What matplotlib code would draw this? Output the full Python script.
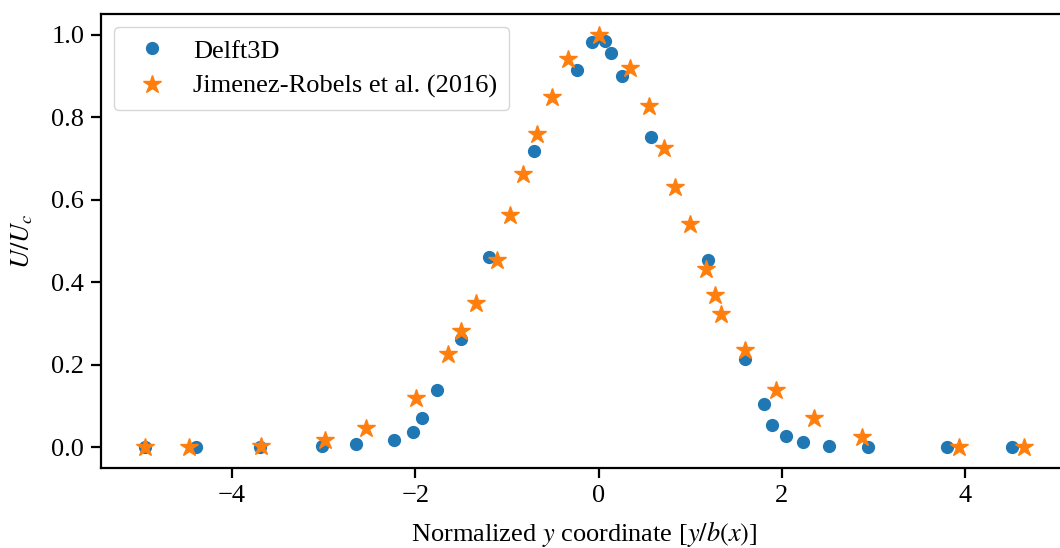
import matplotlib
matplotlib.use("Agg")
import matplotlib.pyplot as plt

plt.rcParams['font.family'] = ['Liberation Serif', 'DejaVu Serif']
plt.rcParams['mathtext.fontset'] = 'stix'
plt.rcParams['font.size'] = 19

# Delft3D model, normalised lateral velocity profile
delft_y = [-4.95, -4.39, -3.69, -3.02, -2.65, -2.23, -2.03, -1.93, -1.76, -1.50,
           -1.20, -0.70, -0.24, -0.07, 0.07, 0.14, 0.26, 0.57, 1.19, 1.60,
           1.80, 1.89, 2.05, 2.23, 2.51, 2.94, 3.80, 4.51]
delft_u = [0.0, 0.0, 0.0, 0.003, 0.008, 0.018, 0.037, 0.072, 0.14, 0.263,
           0.46, 0.717, 0.915, 0.983, 0.985, 0.956, 0.90, 0.751, 0.453, 0.215,
           0.104, 0.053, 0.027, 0.012, 0.004, 0.0, 0.0, 0.0]

# measurements
jr_y = [-4.95, -4.47, -3.68, -2.99, -2.54, -1.99, -1.64, -1.50, -1.34, -1.11,
        -0.97, -0.83, -0.67, -0.51, -0.33, 0.0, 0.34, 0.55, 0.71, 0.83,
        1.00, 1.17, 1.27, 1.34, 1.60, 1.94, 2.35, 2.87, 3.93, 4.64]
jr_u = [0.0, 0.0, 0.003, 0.017, 0.048, 0.12, 0.225, 0.283, 0.35, 0.455,
        0.562, 0.663, 0.758, 0.85, 0.94, 1.0, 0.92, 0.828, 0.726, 0.63,
        0.54, 0.431, 0.368, 0.324, 0.237, 0.138, 0.07, 0.024, 0.0, 0.0]

fig = plt.figure(figsize=(10.6, 5.48), dpi=100)
ax = fig.add_axes([0.0953, 0.146, 0.912, 0.8285])

ax.plot(delft_y, delft_u, 'o', color='tab:blue', markersize=8.5, label='Delft3D')
ax.plot(jr_y, jr_u, '*', color='tab:orange', markersize=13.5,
        label='Jimenez-Robels et al. (2016)')

ax.set_xlabel('Normalized $y$ coordinate [$y/b(x)$]', labelpad=9)
ax.set_ylabel('$U/U_c$', labelpad=12)
ax.set_yticks([0.0, 0.2, 0.4, 0.6, 0.8, 1.0])
ax.set_xticks([-4, -2, 0, 2, 4])

for s in ax.spines.values():
    s.set_linewidth(1.6)
ax.tick_params(width=1.6, length=7, pad=5)

ax.legend(loc='upper left', borderpad=0.45, handletextpad=0.55, labelspacing=0.45)

fig.savefig('out.png', dpi=100)
